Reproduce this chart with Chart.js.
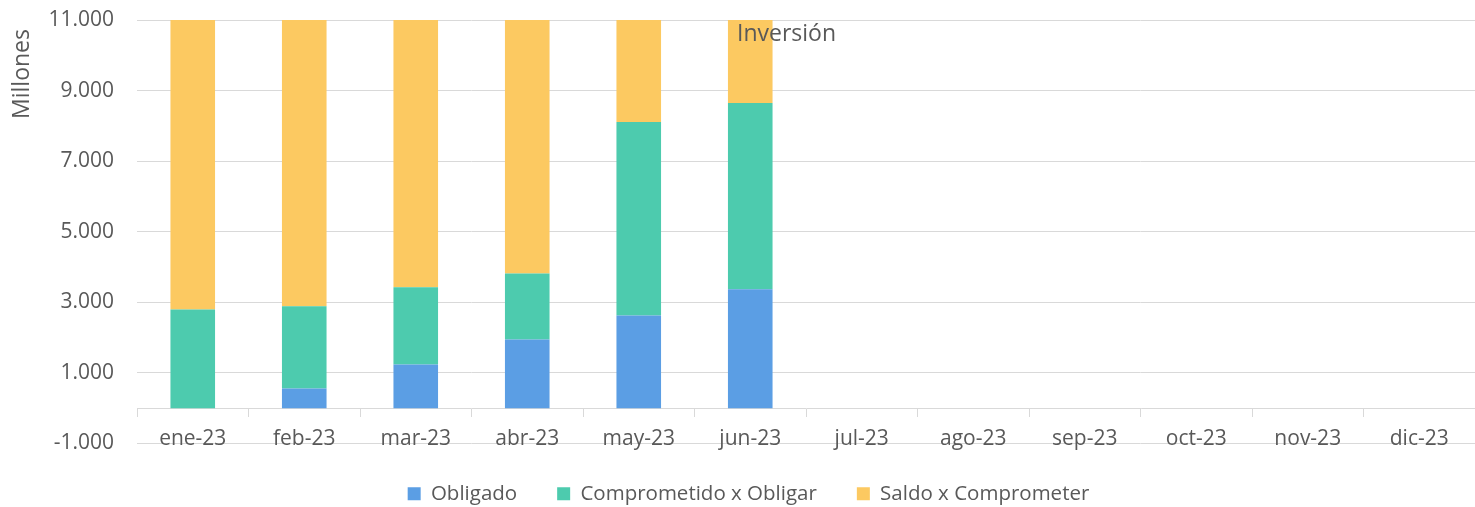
<!DOCTYPE html>
<html>
<head>
<meta charset="utf-8">
<script src="https://cdn.jsdelivr.net/npm/chart.js@4.4.7/dist/chart.umd.min.js"></script>
<style>
    html, body { margin: 0; padding: 0; background: #ffffff; }
    #wrap { width: 1475px; height: 507px; }
</style>
</head>
<body>
<div id="wrap"><canvas id="inversion"></canvas></div>
<script>

// Data (millones)
const months      = ['ene-23', 'feb-23', 'mar-23', 'abr-23', 'may-23', 'jun-23',
                     'jul-23', 'ago-23', 'sep-23', 'oct-23', 'nov-23', 'dic-23'];
const obligado    = [0, 560, 1240, 1950, 2630, 3370, null, null, null, null, null, null];
const comprometido = [2800, 2330, 2190, 1870, 5480, 5280, null, null, null, null, null, null];
const saldo       = [8700, 8600, 8000, 7700, 3400, 2900, null, null, null, null, null, null];
const yTicks      = [-1000, 1000, 3000, 5000, 7000, 9000, 11000];

const txtColor = '#595959';
const gridColor = '#d9d9d9';
const fontFamily = "'Open Sans', 'Noto Sans', sans-serif";

// Title and y axis caption, drawn over the plot like in the original
const captions = {
    id: 'captions',
    afterDraw(chart) {
        const ctx = chart.ctx;
        ctx.save();
        ctx.fillStyle = txtColor;
        ctx.font = '23px ' + fontFamily;
        ctx.textBaseline = 'middle';
        ctx.textAlign = 'left';
        ctx.fillText('Inversión', 737, 34);

        ctx.translate(22, 74);
        ctx.rotate(-Math.PI / 2);
        ctx.textAlign = 'center';
        ctx.fillText('Millones', 0, 0);
        ctx.restore();
    }
};

function initBarChart() {

    const ctx = document.getElementById('inversion');

    var data = {
        labels: months,
        datasets: [{
            label: 'Obligado',
            data: obligado,
            backgroundColor: '#5b9ee4'
        }, {
            label: 'Comprometido x Obligar',
            data: comprometido,
            backgroundColor: '#4dcbae'
        }, {
            label: 'Saldo x Comprometer',
            data: saldo,
            backgroundColor: '#fcc961'
        }]
    };

    var options = {
        responsive: true,
        maintainAspectRatio: false,
        animation: false,
        datasets: {
            bar: {
                categoryPercentage: 1.0,
                barPercentage: 0.4,
                borderWidth: 0
            }
        },
        layout: {
            padding: { top: 20, right: 0, bottom: -7, left: 22 }
        },
        scales: {
            x: {
                stacked: true,
                position: { y: 0 },
                grid: {
                    drawOnChartArea: false,
                    drawTicks: true,
                    tickLength: 8,
                    color: gridColor
                },
                border: { color: gridColor, width: 1 },
                ticks: {
                    color: txtColor,
                    padding: 10,
                    maxRotation: 0,
                    font: { family: fontFamily, size: 21 }
                }
            },
            y: {
                stacked: true,
                min: -1000,
                max: 11000,
                afterBuildTicks: function(scale) {
                    scale.ticks = yTicks.map(v => ({ value: v }));
                },
                afterFit: function(scale) {
                    scale.width = 115;
                    scale.paddingTop = 0;
                },
                grid: {
                    color: gridColor,
                    drawTicks: false
                },
                border: { display: false },
                ticks: {
                    color: txtColor,
                    padding: 23,
                    font: { family: fontFamily, size: 21 },
                    callback: function(v) {
                        return new Intl.NumberFormat('de-DE').format(v);
                    }
                }
            }
        },
        plugins: {
            legend: {
                position: 'bottom',
                labels: {
                    color: txtColor,
                    boxWidth: 13,
                    boxHeight: 13,
                    padding: 40,
                    font: { family: fontFamily, size: 20.5 }
                }
            },
            tooltip: { enabled: false }
        }
    };

    var bar = new Chart(ctx, { type: 'bar', data, options, plugins: [captions] });

    return bar;
}

initBarChart();
</script>
</body>
</html>
